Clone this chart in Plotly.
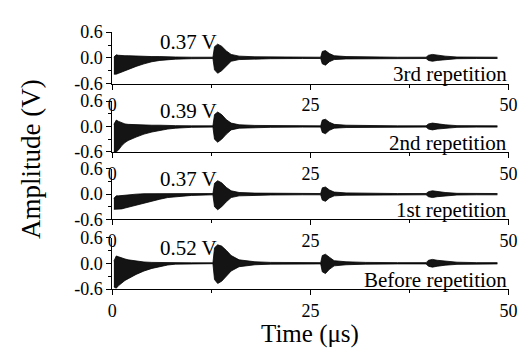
import plotly.graph_objects as go

# ---------------- data ----------------
time_us = [0.2, 0.5, 0.8, 1.2, 1.6, 2.0, 3.0, 4.0, 5.0, 6.0, 7.0, 8.0, 10.0,
           12.7, 12.9, 13.3, 13.8, 14.4, 15.0, 16.0, 18.0, 20.0, 24.0,
           26.3, 26.5, 26.9, 27.4, 28.0, 29.5, 32.0, 36.0,
           39.6, 39.9, 40.4, 41.0, 42.0, 43.5, 46.0, 48.6]

# upper / lower envelopes of each trace (V)
up_3rd = [0.02, 0.07, 0.06, 0.05, 0.05, 0.05, 0.04, 0.04, 0.03, 0.03, 0.02, 0.02, 0.015,
          0.015, 0.26, 0.32, 0.27, 0.16, 0.08, 0.04, 0.025, 0.02, 0.015,
          0.015, 0.15, 0.17, 0.10, 0.05, 0.03, 0.02, 0.015,
          0.015, 0.06, 0.08, 0.06, 0.04, 0.02, 0.015, 0.015]
lo_3rd = [-0.38, -0.38, -0.36, -0.33, -0.30, -0.27, -0.20, -0.14, -0.09, -0.06, -0.04, -0.03, -0.02,
          -0.015, -0.28, -0.36, -0.30, -0.18, -0.08, -0.04, -0.025, -0.02, -0.015,
          -0.015, -0.14, -0.17, -0.09, -0.04, -0.025, -0.02, -0.015,
          -0.015, -0.06, -0.08, -0.06, -0.04, -0.02, -0.015, -0.015]

up_2nd = [0.05, 0.15, 0.12, 0.08, 0.06, 0.05, 0.04, 0.04, 0.03, 0.03, 0.02, 0.02, 0.015,
          0.015, 0.28, 0.34, 0.28, 0.16, 0.08, 0.04, 0.025, 0.02, 0.015,
          0.015, 0.15, 0.17, 0.10, 0.05, 0.03, 0.02, 0.015,
          0.015, 0.06, 0.08, 0.06, 0.04, 0.02, 0.015, 0.015]
lo_2nd = [-0.60, -0.60, -0.55, -0.45, -0.38, -0.33, -0.25, -0.18, -0.13, -0.09, -0.06, -0.04, -0.02,
          -0.015, -0.30, -0.37, -0.30, -0.18, -0.08, -0.04, -0.025, -0.02, -0.015,
          -0.015, -0.14, -0.17, -0.09, -0.04, -0.025, -0.02, -0.015,
          -0.015, -0.06, -0.08, -0.06, -0.04, -0.02, -0.015, -0.015]

up_1st = [-0.10, -0.04, -0.04, -0.03, -0.02, -0.01, 0.0, 0.01, 0.01, 0.01, 0.015, 0.015, 0.015,
          0.015, 0.26, 0.32, 0.27, 0.16, 0.08, 0.04, 0.025, 0.02, 0.015,
          0.015, 0.15, 0.17, 0.10, 0.05, 0.03, 0.02, 0.015,
          0.015, 0.06, 0.08, 0.06, 0.04, 0.02, 0.015, 0.015]
lo_1st = [-0.36, -0.36, -0.36, -0.35, -0.33, -0.31, -0.27, -0.21, -0.16, -0.12, -0.08, -0.06, -0.03,
          -0.015, -0.30, -0.37, -0.30, -0.18, -0.08, -0.04, -0.025, -0.02, -0.015,
          -0.015, -0.14, -0.17, -0.09, -0.04, -0.025, -0.02, -0.015,
          -0.015, -0.06, -0.08, -0.06, -0.04, -0.02, -0.015, -0.015]

up_before = [0.05, 0.17, 0.15, 0.12, 0.10, 0.08, 0.05, 0.03, 0.02, 0.015, 0.015, 0.01, 0.01,
             0.01, 0.36, 0.43, 0.40, 0.30, 0.18, 0.08, 0.035, 0.02, 0.015,
             0.015, 0.18, 0.21, 0.14, 0.06, 0.035, 0.02, 0.015,
             0.015, 0.07, 0.09, 0.07, 0.045, 0.025, 0.015, 0.015]
lo_before = [-0.55, -0.58, -0.52, -0.45, -0.40, -0.36, -0.26, -0.18, -0.12, -0.08, -0.04, -0.02, -0.01,
             -0.01, -0.38, -0.47, -0.42, -0.30, -0.18, -0.08, -0.035, -0.02, -0.015,
             -0.015, -0.20, -0.24, -0.14, -0.06, -0.035, -0.02, -0.015,
             -0.015, -0.07, -0.09, -0.07, -0.045, -0.025, -0.015, -0.015]

panel_labels = ["3rd repetition", "2nd repetition", "1st repetition", "Before repetition"]
peak_labels = ["0.37 V", "0.39 V", "0.37 V", "0.52 V"]
uppers = [up_3rd, up_2nd, up_1st, up_before]
lowers = [lo_3rd, lo_2nd, lo_1st, lo_before]

x_ticks = [0, 25, 50]
x_ticktext = ["0", "25", "50"]
x_minor = [12.5, 37.5]
y_ticks = [-0.6, 0.0, 0.6]
y_ticktext = ["-0.6", "0.0", "0.6"]
y_minor = [-0.3, 0.3]

# ---------------- layout ----------------
W, H = 528, 353
FONT = "Liberation Serif, Times New Roman, serif"
x_dom = [102 / W, 509 / W]
panel_px = [(15, 69.5), (88, 142), (160, 213.5), (232.7, 287.3)]

fig = go.Figure()
layout = dict(
    width=W, height=H,
    margin=dict(l=0, r=0, t=0, b=0),
    paper_bgcolor="white", plot_bgcolor="white",
    showlegend=False,
    font=dict(family=FONT, color="black", size=18),
)

annotations = []
for i in range(4):
    n = "" if i == 0 else str(i + 1)
    top, bot = panel_px[i]
    xa = dict(
        domain=x_dom, range=[0, 50], anchor="y" + n,
        showline=True, linecolor="black", linewidth=1,
        ticks="outside", ticklen=5, tickwidth=1, tickcolor="black",
        tickmode="array", tickvals=x_ticks, ticktext=x_ticktext,
        minor=dict(ticks="outside", ticklen=3, tickcolor="black", tickmode="array", tickvals=x_minor),
        showgrid=False, zeroline=False, mirror=False,
        tickfont=dict(family=FONT, size=18, color="black"),
    )
    ya = dict(
        domain=[1 - bot / H, 1 - top / H], range=[-0.6, 0.6], anchor="x" + n,
        showline=True, linecolor="black", linewidth=1,
        ticks="outside", ticklen=5, tickwidth=1, tickcolor="black",
        tickmode="array", tickvals=y_ticks, ticktext=y_ticktext,
        minor=dict(ticks="outside", ticklen=3, tickcolor="black", tickmode="array", tickvals=y_minor),
        showgrid=False, zeroline=False, mirror=False,
        tickfont=dict(family=FONT, size=18, color="black"),
    )
    layout["xaxis" + n] = xa
    layout["yaxis" + n] = ya

    fig.add_trace(go.Scatter(
        x=time_us, y=lowers[i], mode="lines",
        line=dict(color="black", width=0.8),
        xaxis="x" + n, yaxis="y" + n, hoverinfo="skip",
    ))
    fig.add_trace(go.Scatter(
        x=time_us, y=uppers[i], mode="lines", fill="tonexty",
        fillcolor="rgba(0,0,0,0.92)",
        line=dict(color="black", width=0.8),
        xaxis="x" + n, yaxis="y" + n, hoverinfo="skip",
    ))

    annotations.append(dict(
        text=peak_labels[i], xref="x" + n, yref="y" + n, x=9.6, y=0.36,
        showarrow=False, xanchor="center", yanchor="middle",
        font=dict(family=FONT, size=21, color="black"),
    ))
    annotations.append(dict(
        text=panel_labels[i], xref="x" + n, yref="y" + n, x=50, y=-0.38,
        showarrow=False, xanchor="right", yanchor="middle",
        font=dict(family=FONT, size=21, color="black"),
    ))

annotations.append(dict(
    text="Time (\u03bcs)", xref="paper", yref="paper", x=305 / W, y=1 - 335 / H,
    showarrow=False, xanchor="center", yanchor="middle",
    font=dict(family=FONT, size=25, color="black"),
))
annotations.append(dict(
    text="Amplitude (V)", xref="paper", yref="paper", x=18 / W, y=1 - 150 / H,
    showarrow=False, xanchor="center", yanchor="middle", textangle=-90,
    font=dict(family=FONT, size=27, color="black"),
))
layout["annotations"] = annotations

fig.update_layout(**layout)
fig.write_html("out.html")
